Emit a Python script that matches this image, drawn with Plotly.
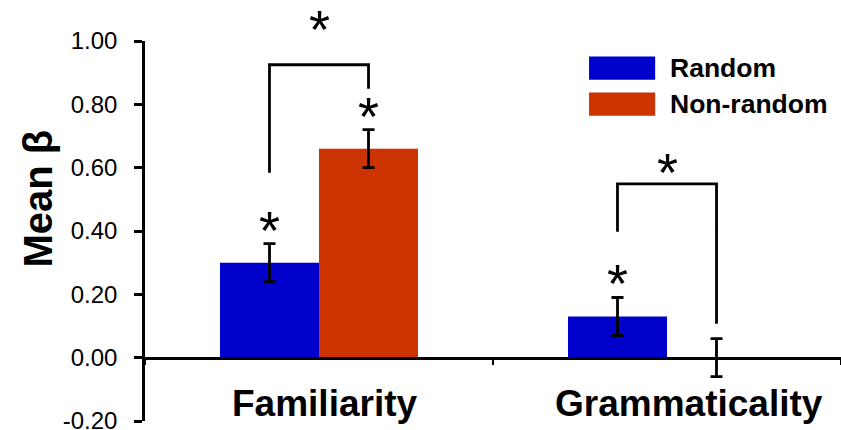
import plotly.graph_objects as go

# Mean beta weights per judgement type and ordering condition
categories = ["Familiarity", "Grammaticality"]
random_mean = [0.30, 0.13]
random_err = [0.06, 0.06]
nonrandom_mean = [0.66, 0.00]
nonrandom_err = [0.06, 0.06]
y_ticks = [-0.20, 0.00, 0.20, 0.40, 0.60, 0.80, 1.00]
y_tick_text = [f"{v:.2f}" for v in y_ticks]

# Which bars differ significantly from zero
random_sig = [True, True]
nonrandom_sig = [True, False]

BLUE = "#0000CC"
RED = "#CC3300"
FONT = "Liberation Sans"

fig = go.Figure()
fig.add_trace(go.Bar(
    x=categories, y=random_mean, name="Random",
    marker=dict(color=BLUE, line=dict(width=0)),
    error_y=dict(type="data", array=random_err, color="black", thickness=2.8, width=6),
))
fig.add_trace(go.Bar(
    x=categories, y=nonrandom_mean, name="Non-random",
    marker=dict(color=RED, line=dict(width=0)),
    error_y=dict(type="data", array=nonrandom_err, color="black", thickness=2.8, width=6),
))

BAR_OFF = 0.1423  # half of one bar's width in category units
ann = []
shapes = []

# asterisks above individual bars
STAR = dict(font=dict(family=FONT, size=54, color="black"), showarrow=False,
            xanchor="center", yanchor="middle", yshift=-9)
for i, (m, e, s) in enumerate(zip(random_mean, random_err, random_sig)):
    if s:
        ann.append(dict(text="*", x=i - BAR_OFF, y=m + e + 0.073, **STAR))
for i, (m, e, s) in enumerate(zip(nonrandom_mean, nonrandom_err, nonrandom_sig)):
    if s:
        ann.append(dict(text="*", x=i + BAR_OFF, y=m + e + 0.073, **STAR))

# comparison brackets between conditions: (category, top, left end, right end, star height)
brackets = [(0, 0.925, 0.584, 0.849, 1.065), (1, 0.549, 0.398, 0.107, 0.615)]
for c, top, yl, yr, ys in brackets:
    xl, xr = c - BAR_OFF, c + BAR_OFF
    shapes.append(dict(type="path", xref="x", yref="y",
                       path=f"M {xl},{yl} L {xl},{top} L {xr},{top} L {xr},{yr}",
                       line=dict(color="black", width=2.8)))
    # star placed in paper space so it can sit above the top of the axis range
    ann.append(dict(text="*", x=c, xref="x", yref="paper", y=(ys + 0.2) / 1.2, **STAR))

# category labels sitting under the zero line
for x, lab in [(0.017, categories[0]), (1.063, categories[1])]:
    ann.append(dict(text=f"<b>{lab}</b>", x=x, y=-0.145, xref="x", yref="y",
                    showarrow=False, xanchor="center", yanchor="middle",
                    font=dict(family=FONT, size=37, color="black")))

# axis title
ann.append(dict(text="<b>Mean β</b>", textangle=-90, xref="paper", yref="paper",
                x=-0.154, y=0.585, xanchor="center", yanchor="middle", showarrow=False,
                font=dict(family=FONT, size=40, color="black")))

# legend drawn as swatches + labels
for k, (col, lab) in enumerate([(BLUE, "Random"), (RED, "Non-random")]):
    y0 = 0.959 - k * 0.0947
    shapes.append(dict(type="rect", xref="paper", yref="paper",
                       x0=0.638, x1=0.733, y0=y0 - 0.061, y1=y0,
                       fillcolor=col, line=dict(width=0)))
    ann.append(dict(text=f"<b>{lab}</b>", xref="paper", yref="paper",
                    x=0.751, y=y0 - 0.030, xanchor="left", yanchor="middle",
                    showarrow=False, font=dict(family=FONT, size=26.5, color="black")))

fig.update_layout(
    width=841, height=430,
    margin=dict(l=145, r=0, t=41, b=9, autoexpand=False),
    paper_bgcolor="white", plot_bgcolor="white",
    barmode="group", bargap=0.431, bargroupgap=0,
    showlegend=False,
    annotations=ann, shapes=shapes,
    font=dict(family=FONT, color="black"),
)
fig.update_xaxes(
    type="category", range=[-0.5, 1.5], anchor="free", position=1 / 6,
    showline=True, linecolor="black", linewidth=3,
    ticks="outside", tickson="boundaries", ticklen=5, tickwidth=2, tickcolor="black",
    showticklabels=False, showgrid=False, zeroline=False, automargin=False,
)
fig.update_yaxes(
    range=[-0.2, 1.0], tickvals=y_ticks, ticktext=y_tick_text,
    showline=True, linecolor="black", linewidth=2.5,
    ticks="outside", ticklen=8, tickwidth=2.5, tickcolor="black",
    ticklabelstandoff=12, ticklabeloverflow="allow",
    tickfont=dict(family=FONT, size=24, color="black"),
    showgrid=False, zeroline=False, automargin=False,
)

fig.write_html("out.html")
